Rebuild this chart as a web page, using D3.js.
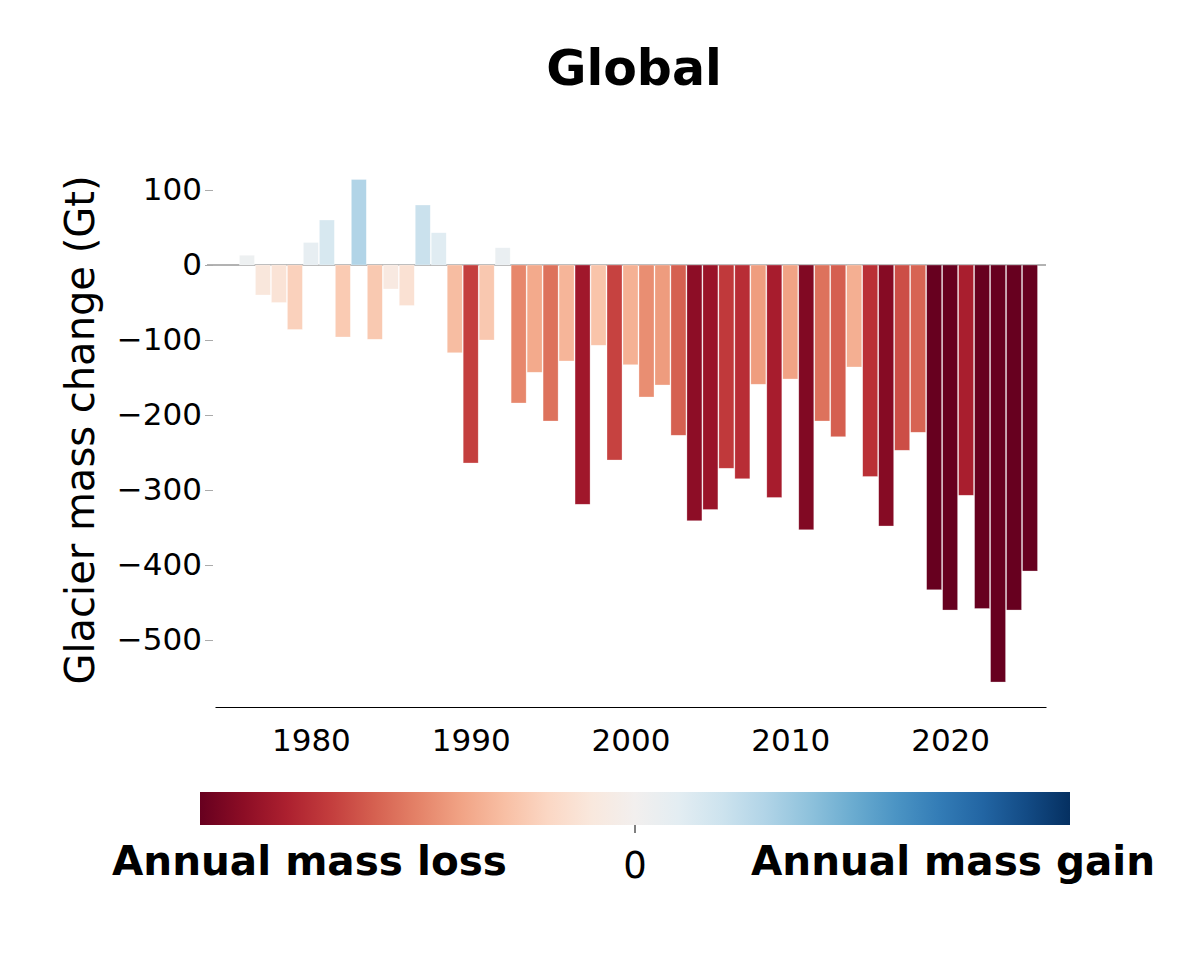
<!doctype html>
<html lang="en">
  <head>
    <meta charset="utf-8">
    <title>Global glacier mass change</title>
    <style>
      * {
        margin: 0;
        border: 0;
        padding: 0;
      }
      body {
        background-color: #fff;
      }
      text {
        font-family: 'DejaVu Sans', sans-serif;
      }
    </style>
  </head>
  <body>
    <div id="plot"></div>

<script src="https://d3js.org/d3.v7.min.js"></script>
<script>

  // annual mass change in Gt
  var years = d3.range(1976, 2026);
  var change = [
     13,  -40,  -50,  -86,   30,   60,  -96,  114,  -99,  -32,
    -54,   80,   43, -117, -264, -100,   23, -184, -143, -208,
   -128, -319, -107, -260, -133, -176, -160, -227, -341, -326,
   -271, -285, -159, -310, -152, -353, -208, -229, -136, -282,
   -348, -247, -223, -433, -460, -307, -458, -556, -460, -408
  ];
  var yTicks = [100, 0, -100, -200, -300, -400, -500];
  var xTicks = [1980, 1990, 2000, 2010, 2020];

  var width  = 1200;
  var height = 955;

  var xscale = d3.scaleLinear().domain([1974, 2026]).range([215, 1046]);
  var yscale = d3.scaleLinear().domain([-589.3, 0]).range([707, 265]);
  var colour = d3.scaleDiverging(d3.interpolateRdBu).domain([-380, 0, 380]).clamp(true);
  var step = xscale(1) - xscale(0);

  var svg = d3.select("#plot").append("svg").attr("width", width).attr("height", height);

  svg.append("text").attr("x", 634).attr("y", 85).attr("text-anchor", "middle")
    .style("font-size", "49px").style("font-weight", "bold").text("Global");

  // zero line
  svg.append("line").attr("x1", 207).attr("x2", 1046)
    .attr("y1", yscale(0)).attr("y2", yscale(0))
    .style("stroke", "#666").style("stroke-width", 1);

  svg.selectAll("rect.bar").data(years).enter().append("rect").attr("class", "bar")
    .attr("x", (d) => xscale(d) - step * 0.47)
    .attr("width", step * 0.94)
    .attr("y", (d, i) => yscale(Math.max(0, change[i])))
    .attr("height", (d, i) => Math.abs(yscale(change[i]) - yscale(0)))
    .style("fill", (d, i) => colour(change[i]))
    .style("stroke", "#fff").style("stroke-width", 0.6).style("stroke-opacity", 0.5);

  // y axis: ticks and labels only
  var yaxis = svg.append("g").attr("transform", "translate(213,0)")
    .call(d3.axisLeft(yscale).tickValues(yTicks).tickSize(8).tickPadding(3)
      .tickFormat((d) => d < 0 ? "\u2212" + Math.abs(d) : d));
  yaxis.select(".domain").remove();
  yaxis.selectAll(".tick line").style("stroke", "#aaa");
  yaxis.selectAll(".tick text").style("font-size", "31px").style("fill", "#000")
    .attr("font-family", null);

  // x axis: bottom spine and labels, no ticks
  var xaxis = svg.append("g").attr("transform", "translate(0,707)")
    .call(d3.axisBottom(xscale).tickValues(xTicks).tickSize(0).tickPadding(22)
      .tickFormat(d3.format("d")));
  xaxis.select(".domain").style("stroke", "#000").style("stroke-width", 1.2);
  xaxis.selectAll(".tick text").style("font-size", "31px").style("fill", "#000")
    .attr("font-family", null);

  svg.append("text").attr("transform", "translate(94,430) rotate(-90)")
    .attr("text-anchor", "middle").style("font-size", "40px")
    .text("Glacier mass change (Gt)");

  // colour bar
  var grad = svg.append("defs").append("linearGradient").attr("id", "rdbu");
  grad.selectAll("stop").data(d3.range(0, 1.0001, 0.05)).enter().append("stop")
    .attr("offset", (d) => d)
    .attr("stop-color", (d) => d3.interpolateRdBu(d));

  svg.append("rect").attr("x", 200).attr("y", 792).attr("width", 870).attr("height", 33)
    .style("fill", "url(#rdbu)");
  svg.append("line").attr("x1", 635).attr("x2", 635).attr("y1", 825).attr("y2", 833)
    .style("stroke", "#000");
  svg.append("text").attr("x", 635).attr("y", 878).attr("text-anchor", "middle")
    .style("font-size", "37px").text("0");
  svg.append("text").attr("x", 112).attr("y", 875)
    .style("font-size", "40.5px").style("font-weight", "bold").text("Annual mass loss");
  svg.append("text").attr("x", 1155).attr("y", 875).attr("text-anchor", "end")
    .style("font-size", "40.5px").style("font-weight", "bold").text("Annual mass gain");

</script>
  </body>
</html>
